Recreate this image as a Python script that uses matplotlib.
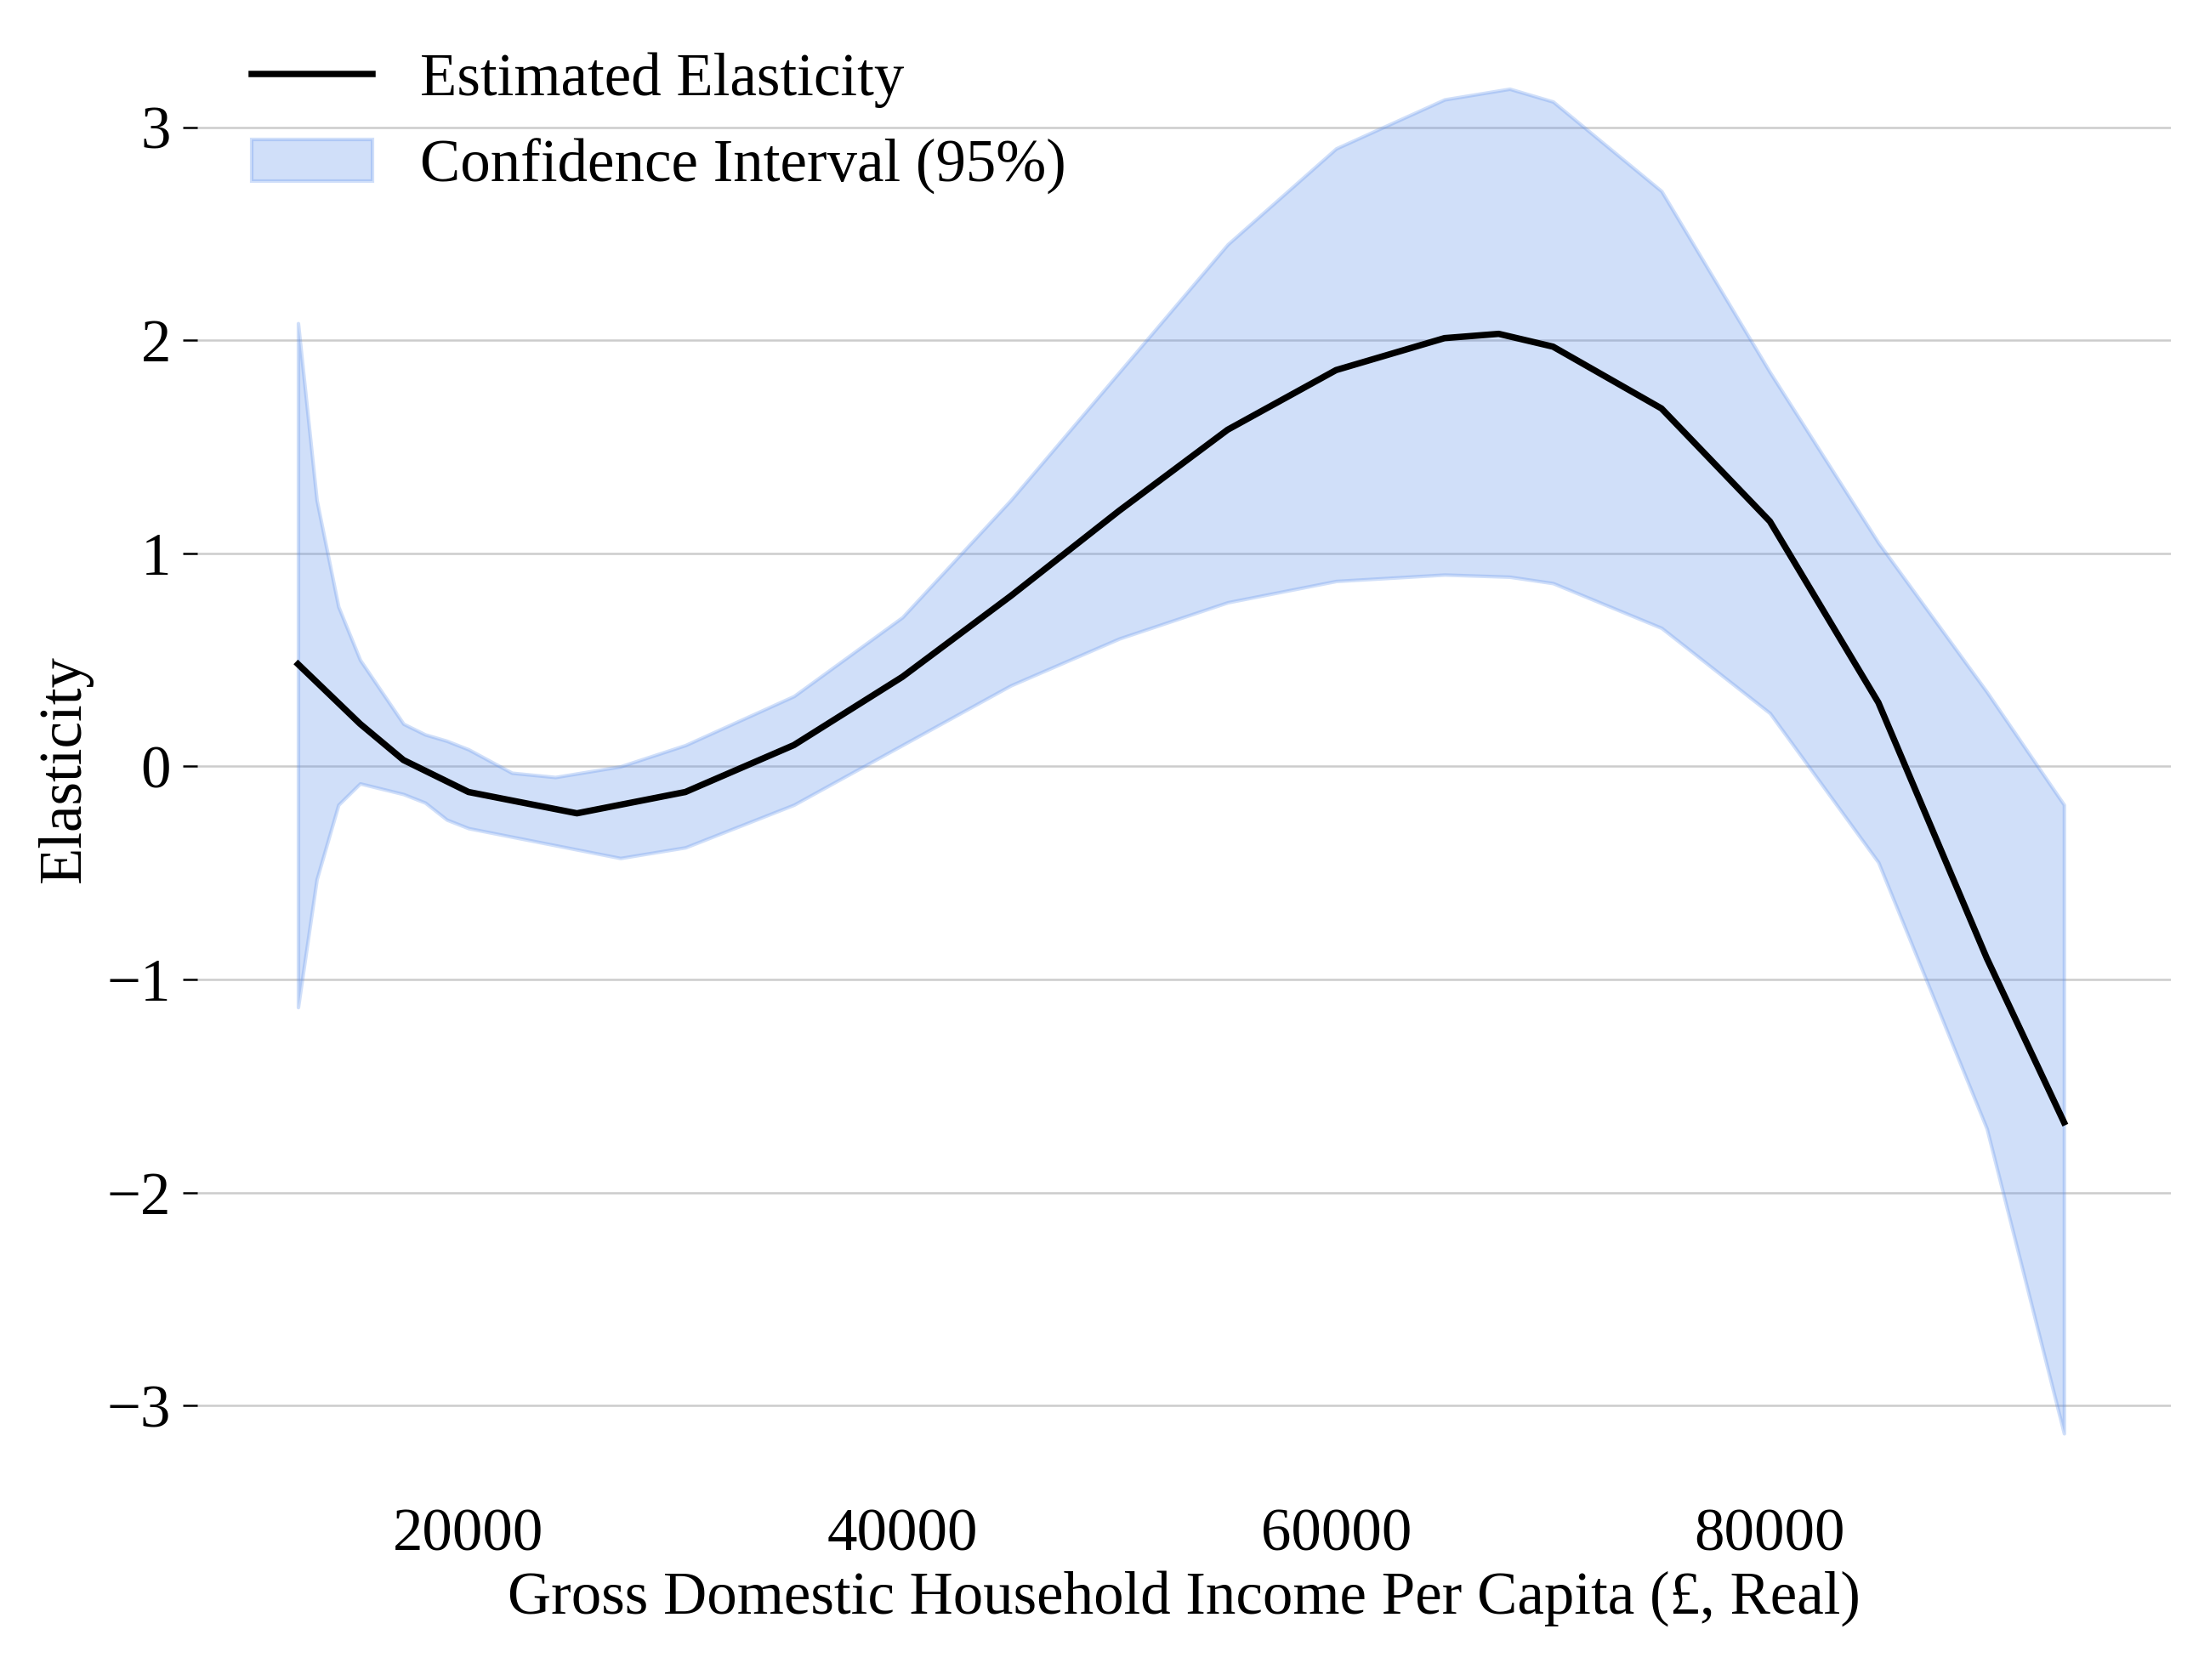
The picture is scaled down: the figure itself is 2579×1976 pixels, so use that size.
import matplotlib.pyplot as plt
import numpy as np

plt.rcParams['font.family'] = ['Liberation Serif', 'DejaVu Serif']

# estimated elasticity
est_x = [12140, 15000, 17000, 20000, 25000, 30000, 35000, 40000, 45000, 50000,
         55000, 60000, 65000, 67500, 70000, 75000, 80000, 85000, 90000, 93560]
est_y = [0.48, 0.2, 0.03, -0.12, -0.22, -0.12, 0.1, 0.42, 0.8, 1.2,
         1.58, 1.86, 2.01, 2.03, 1.97, 1.68, 1.15, 0.3, -0.9, -1.67]

# confidence band
ci_x = [12140, 13000, 14000, 15000, 17000, 18000, 19000, 20000, 22000, 24000,
        27000, 30000, 35000, 40000, 45000, 50000, 55000, 60000, 65000, 68000,
        70000, 75000, 80000, 85000, 90000, 93560]
ci_upper = [2.08, 1.25, 0.75, 0.5, 0.2, 0.15, 0.12, 0.08, -0.03, -0.05,
            0.0, 0.1, 0.33, 0.7, 1.25, 1.85, 2.45, 2.9, 3.13, 3.18,
            3.12, 2.7, 1.85, 1.05, 0.35, -0.18]
ci_lower = [-1.13, -0.53, -0.18, -0.08, -0.13, -0.17, -0.25, -0.29, -0.33, -0.37,
            -0.43, -0.38, -0.18, 0.1, 0.38, 0.6, 0.77, 0.87, 0.9, 0.89,
            0.86, 0.65, 0.25, -0.45, -1.7, -3.13]

fig, ax = plt.subplots(figsize=(8.597, 6.587), dpi=300)
fig.subplots_adjust(left=0.09, right=0.99, top=0.975, bottom=0.11)

ax.fill_between(ci_x, ci_lower, ci_upper, color='#6495ED', alpha=0.3,
                label='Confidence Interval (95%)')
ax.plot(est_x, est_y, color='black', lw=1.8, label='Estimated Elasticity')

for s in ax.spines.values():
    s.set_visible(False)
ax.yaxis.grid(True, color='#cccccc', lw=0.6)
ax.set_axisbelow(True)
ax.tick_params(axis='x', length=0, labelsize=17)
ax.tick_params(axis='y', length=4, width=0.6, labelsize=17)
ax.set_xticks([20000, 40000, 60000, 80000])
ax.set_yticks([-3, -2, -1, 0, 1, 2, 3])
ax.set_xlim(7500, 98500)
ax.set_ylim(-3.42, 3.4)
ax.set_xlabel('Gross Domestic Household Income Per Capita (£, Real)', fontsize=17, labelpad=2)
ax.set_ylabel('Elasticity', fontsize=17)

h, l = ax.get_legend_handles_labels()
ax.legend(h[::-1], l[::-1], loc='upper left', frameon=False, fontsize=17,
          bbox_to_anchor=(0.0, 1.03))

fig.savefig('out.png', dpi=300)
